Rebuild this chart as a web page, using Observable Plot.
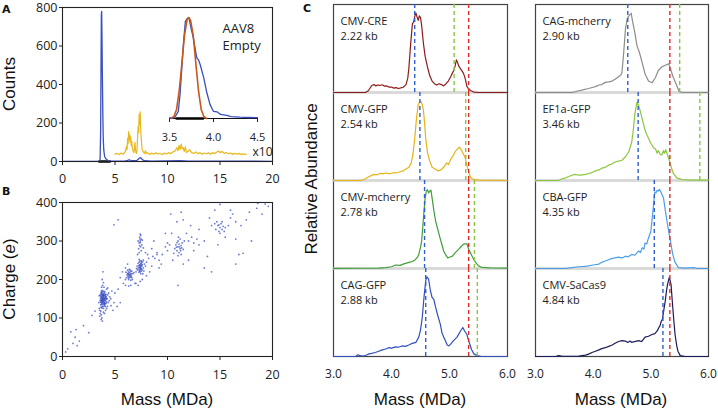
<!DOCTYPE html>
<html><head><meta charset="utf-8">
<script src="https://cdn.jsdelivr.net/npm/d3@7"></script>
<script src="https://cdn.jsdelivr.net/npm/@observablehq/plot@0.6"></script>
<style>
body{margin:0;background:#fff;}
#fig{position:relative;width:718px;height:411px;overflow:hidden;}
.pane{position:absolute;}
.lab{position:absolute;white-space:nowrap;line-height:1;color:#111;font-family:"Liberation Sans",Arial,sans-serif;}
</style></head><body><div id="fig"></div>
<script>
// ---------- Panel A data ----------
const spectrumMass   = [0,3.5,3.58,3.63,3.67,3.7,3.73,3.76,3.8,3.84,3.88,3.93,4.0,4.1,4.3,4.6,5.5,6.0,6.2,6.35,6.5,6.8,7.1,7.3,7.45,7.6,7.8,8.5,11.2,12,20];
const spectrumCounts = [1,1,10,150,500,760,780,650,430,250,120,60,30,15,6,3,2,3,6,9,5,4,6,16,20,10,4,2,4,2,1];
const x10Mass   = [5.0,5.2,5.4,5.6,5.8,5.9,6.0,6.1,6.15,6.2,6.25,6.3,6.35,6.4,6.45,6.5,6.55,6.6,6.65,6.7,6.8,6.85,6.9,6.95,7.0,7.05,7.1,7.15,7.2,7.25,7.3,7.35,7.4,7.45,7.5,7.55,7.6,7.7,7.8,7.9,8.0,8.1,8.3,8.5,8.7,8.9,9.1,9.3,9.5,9.7,9.9,10.1,10.3,10.5,10.7,10.8,10.9,11.0,11.1,11.2,11.3,11.4,11.5,11.6,11.7,11.8,12.0,12.1,12.3,12.5,12.7,12.9,13.1,13.3,13.5,13.7,13.9,14.1,14.3,14.5,14.7,14.9,15.0,15.2,15.4,15.6,15.8,16.0,16.2,16.4,16.6,16.8,17.0,17.2,17.5];
const x10Counts = [38,42,36,44,38,46,55,80,62,120,92,155,112,140,100,128,82,104,72,58,46,72,100,62,46,42,60,130,180,150,245,190,258,165,120,80,60,50,42,56,40,46,37,44,38,46,39,42,36,44,39,46,41,49,54,62,72,56,84,62,90,66,72,52,76,46,56,62,46,42,50,40,46,38,44,40,45,38,46,41,49,54,46,52,42,47,40,44,37,42,38,42,37,40,37];
const insetMass = [3.5,3.56,3.6,3.62,3.64,3.66,3.68,3.7,3.72,3.746,3.77,3.81,3.83,3.85,3.89,3.92,3.96,4.0,4.04,4.08,4.15,4.2,4.3,4.4,4.5];
const insetSignal = [0.005,0.01,0.07,0.24,0.5,0.76,0.96,0.99,1.0,0.89,0.8,0.6,0.58,0.53,0.4,0.27,0.14,0.07,0.066,0.04,0.03,0.018,0.013,0.01,0.008];
const fitMass = [3.52,3.55,3.58,3.61,3.64,3.67,3.70,3.72,3.74,3.77,3.80,3.83,3.86,3.89,3.92];
const fitSignal = [0,0.02,0.09,0.27,0.54,0.82,0.98,1.0,0.97,0.82,0.54,0.27,0.09,0.02,0];
const xTicksAB = [0,5,10,15,20];
const yTicksA = [0,200,400,600,800];
const yTicksB = [0,100,200,300,400];
const insetTicks = [3.5,4.0,4.5];

// ---------- Panel B data (Mass MDa, Charge e) ----------
const cluster37 = [[3.62,150],[3.65,142],[3.68,158],[3.7,135],[3.72,165],[3.75,148],[3.78,155],[3.8,140],[3.82,162],[3.85,150],[3.88,145],[3.9,158],[3.92,138],[3.95,152],[3.98,165],[4.0,148],[4.02,140],[4.05,155],[4.08,160],[4.1,145],[4.12,152],[4.15,138],[3.66,128],[3.7,170],[3.74,126],[3.78,172],[3.84,130],[3.86,168],[3.9,125],[3.94,170],[3.98,132],[4.04,168],[4.08,130],[4.14,162],[4.18,150],[4.2,142],[3.6,160],[3.58,145],[3.64,135],[3.76,138],[3.8,160],[3.83,147],[3.87,156],[3.91,143],[3.96,147],[4.01,159],[4.06,146],[3.73,153],[3.77,144],[3.93,161],[3.99,141],[4.03,151],[3.69,147],[3.71,141],[3.81,151],[3.89,151],[4.11,157],[3.63,155],[3.75,162],[3.85,136],[3.97,137],[4.07,137],[4.16,155],[3.67,165],[3.79,130],[3.74,145],[3.86,142],[3.95,158],[3.82,155],[3.7,152],[3.88,162],[4.0,135],[3.76,168],[3.92,150],[3.8,146],[3.68,140],[4.1,150],[3.84,158],
  [3.55,120],[3.6,112],[3.7,108],[3.75,100],[3.8,92],[3.65,118],[3.9,115],[3.72,180],[3.82,185],[3.9,192],[3.78,200],[3.95,180],[4.25,150],[4.3,160],[4.35,140],[4.4,165],[4.5,155],[4.28,130],[4.45,145],[3.45,140],[3.5,158],[3.5,125],[4.6,150],[4.7,170],[4.2,175],[4.3,178],[3.85,220],[3.55,105],[4.1,120],[4.0,112],[3.68,96],[4.2,125],[4.62,132],[4.8,120],[5.2,130],[4.9,140],[5.0,165],[5.5,140],[5.3,175]];
const diagonalLow = [[0.3,12],[0.5,20],[0.8,64],[1.0,34],[1.2,50],[1.3,70],[1.4,28],[1.6,40],[2.0,80],[2.8,107],[3.1,118],[2.5,62]];
const cluster64 = [[6.1,205],[6.2,215],[6.25,208],[6.3,220],[6.35,212],[6.4,205],[6.4,218],[6.45,225],[6.5,210],[6.55,215],[6.6,205],[6.6,222],[6.3,200],[6.2,224],[6.5,198],[6.45,214],[6.35,226],[6.25,216],[6.55,208],[6.15,212],[6.7,215],[6.65,200],[6.0,200],[6.4,211],[6.3,213],[6.5,221],[6.42,207],[6.28,204],[6.8,218],[6.05,219],
  [5.8,190],[6.0,185],[6.5,185],[6.3,183],[6.9,190],[5.5,205],[5.7,220],[6.2,240],[6.0,230],[5.3,355],[4.9,342]];
const cluster74 = [[7.2,230],[7.3,225],[7.35,238],[7.4,230],[7.45,242],[7.5,228],[7.55,235],[7.6,225],[7.3,245],[7.4,220],[7.5,248],[7.25,236],[7.35,222],[7.45,232],[7.55,244],[7.6,238],[7.7,230],[7.15,225],[7.2,242],[7.4,238],[7.42,226],[7.48,236],[7.33,231],[7.52,222],[7.38,248],[7.28,219],[7.62,246],[7.1,235],[7.8,240],[7.75,222],[7.05,228],[7.45,215],[7.36,234],[7.44,227],[7.5,240],[7.9,235],[7.0,220],[7.65,215],[7.3,252],[7.7,250],
  [7.0,190],[7.4,195],[7.6,200],[8.0,245],[8.2,255],[8.5,235],[8.1,265],[7.9,270],[8.6,260],[8.8,255],[9.0,265],[9.2,250],[8.3,220],[8.0,210],[7.2,185]];
const cluster74high = [[7.25,280],[7.3,295],[7.35,310],[7.4,300],[7.45,285],[7.5,305],[7.4,318],[7.3,270],[7.55,290],[7.45,315],[7.35,288],[7.42,296],[7.6,302],[7.2,300],[7.5,275],[7.38,305],[7.7,282],[7.15,265]];
const cluster111 = [[10.7,280],[10.8,290],[10.9,275],[11.0,285],[11.0,300],[11.1,270],[11.1,292],[11.2,280],[11.2,305],[11.3,288],[11.3,265],[11.4,295],[11.5,278],[11.0,262],[10.9,296],[11.15,285],[11.25,275],[11.6,300],[10.6,268],[11.05,310],[11.35,282],[10.85,284],
  [8.5,280],[9.0,270],[9.5,265],[9.8,285],[10.0,275],[10.2,290],[9.4,240],[8.7,300],[9.2,230],[10.5,250],[10.0,295],[12.0,300],[12.3,310],[12.5,295],[11.8,320],[12.8,305],[11.0,185],[11.5,240],[12.0,250],[12.5,275],[13.0,290],[13.5,300],[10.4,320],[9.8,320],[10.9,350],[11.3,375],[10.3,370],[11.5,355]];
const cluster150 = [[14.6,330],[14.8,340],[14.9,325],[15.0,335],[15.1,345],[15.2,330],[15.3,338],[14.7,350],[15.4,325],[15.0,320],[15.2,350],[14.9,342],[15.5,335],[14.5,345],
  [14.0,360],[14.5,380],[16.0,360],[16.5,350],[17.0,340],[17.5,355],[16.2,370],[15.8,340],[14.8,290],[13.5,230],[14.2,220],[15.0,395],[16.5,240],[17.2,268],[16.8,265],[18.0,300],[18.6,398],[19.3,396],[19.6,390],[18.5,385],[17.8,375],[19.0,370],[16.0,380],[13.8,260],[15.5,310],[14.2,340],[13.0,330],[12.2,340],[16.5,305]];

// ---------- Panel C data ----------
const leftSamples  = ["CMV-CRE","CMV-GFP","CMV-mcherry","CAG-GFP"];
const leftSizes    = ["2.22 kb","2.54 kb","2.78 kb","2.88 kb"];
const leftColors   = ["#8e1b1b","#e8b318","#3f9f3a","#2f4fbd"];
const leftEmpty    = [4.40,4.49,4.57,4.59];
const leftGreen    = [5.08,5.28,5.43,5.48];
const rightSamples = ["CAG-mcherry","EF1a-GFP","CBA-GFP","CMV-SaCas9"];
const rightSizes   = ["2.90 kb","3.46 kb","4.35 kb","4.84 kb"];
const rightColors  = ["#8c8c8c","#8cc63e","#4b9ee6","#1a1c5a"];
const rightEmpty   = [4.60,4.78,5.06,5.21];
const rightGreen   = [5.50,5.85,null,null];
const fullMarker   = 5.33;
const cTicks = [3,4,5,6];

const creTrace = [[3.0,0],[3.55,0],[3.6,0.02],[3.66,0.08],[3.7,0.09],[3.73,0.075],[3.76,0.085],[3.8,0.08],[3.84,0.088],[3.88,0.072],[3.92,0.075],[3.96,0.06],[4.0,0.062],[4.04,0.05],[4.08,0.055],[4.12,0.045],[4.16,0.052],[4.2,0.06],[4.25,0.09],[4.28,0.16],[4.3,0.28],[4.33,0.55],[4.36,0.78],[4.38,0.8],[4.4,0.86],[4.42,0.905],[4.44,0.86],[4.46,0.82],[4.48,0.87],[4.5,0.85],[4.52,0.76],[4.55,0.56],[4.58,0.41],[4.62,0.29],[4.66,0.19],[4.7,0.13],[4.74,0.1],[4.78,0.085],[4.82,0.1],[4.86,0.09],[4.9,0.075],[4.94,0.1],[4.98,0.13],[5.02,0.18],[5.05,0.22],[5.08,0.26],[5.1,0.31],[5.12,0.37],[5.14,0.34],[5.16,0.3],[5.2,0.26],[5.24,0.22],[5.27,0.16],[5.3,0.07],[5.33,0.04],[5.37,0.02],[5.42,0.005],[5.5,0],[6.0,0]];
const cmvGfpTrace = [[3.0,0],[3.48,0],[3.55,0.02],[3.6,0.04],[3.65,0.055],[3.7,0.07],[3.75,0.065],[3.8,0.08],[3.85,0.075],[3.9,0.085],[3.95,0.078],[4.0,0.082],[4.05,0.09],[4.1,0.088],[4.15,0.1],[4.2,0.11],[4.25,0.13],[4.3,0.15],[4.34,0.2],[4.37,0.3],[4.4,0.47],[4.43,0.7],[4.46,0.86],[4.49,0.9],[4.51,0.895],[4.53,0.86],[4.55,0.8],[4.57,0.66],[4.59,0.48],[4.62,0.32],[4.66,0.22],[4.7,0.15],[4.75,0.13],[4.8,0.11],[4.85,0.12],[4.9,0.15],[4.95,0.2],[4.98,0.18],[5.02,0.24],[5.06,0.28],[5.1,0.33],[5.14,0.36],[5.17,0.38],[5.2,0.35],[5.24,0.3],[5.27,0.26],[5.3,0.17],[5.33,0.1],[5.36,0.04],[5.4,0.015],[5.5,0.005],[6.0,0]];
const cmvMcherryTrace = [[3.0,0.002],[3.5,0.003],[3.78,0.005],[3.9,0.01],[4.0,0.02],[4.07,0.04],[4.15,0.035],[4.2,0.05],[4.3,0.07],[4.36,0.08],[4.41,0.1],[4.45,0.13],[4.47,0.16],[4.5,0.24],[4.52,0.31],[4.54,0.48],[4.56,0.65],[4.58,0.8],[4.6,0.88],[4.62,0.895],[4.64,0.86],[4.66,0.88],[4.68,0.89],[4.7,0.8],[4.73,0.66],[4.76,0.54],[4.8,0.44],[4.84,0.34],[4.87,0.27],[4.9,0.2],[4.93,0.16],[4.97,0.12],[5.01,0.13],[5.05,0.14],[5.1,0.18],[5.16,0.22],[5.2,0.25],[5.25,0.28],[5.3,0.28],[5.33,0.22],[5.36,0.18],[5.39,0.14],[5.42,0.1],[5.45,0.07],[5.5,0.03],[5.56,0.012],[5.7,0.008],[6.0,0.005]];
const cagGfpTrace = [[3.0,0],[3.38,0],[3.42,0.02],[3.46,0.01],[3.52,0.005],[3.58,0.02],[3.61,0.03],[3.66,0.035],[3.72,0.045],[3.78,0.06],[3.84,0.075],[3.9,0.085],[3.95,0.1],[4.0,0.095],[4.07,0.11],[4.12,0.105],[4.18,0.12],[4.24,0.115],[4.3,0.13],[4.36,0.15],[4.42,0.16],[4.47,0.22],[4.5,0.3],[4.53,0.44],[4.56,0.67],[4.59,0.86],[4.61,0.905],[4.64,0.88],[4.67,0.75],[4.7,0.67],[4.73,0.65],[4.76,0.56],[4.8,0.46],[4.84,0.37],[4.87,0.27],[4.9,0.22],[4.93,0.18],[4.96,0.13],[4.99,0.12],[5.02,0.14],[5.07,0.18],[5.13,0.22],[5.19,0.29],[5.23,0.33],[5.26,0.29],[5.28,0.27],[5.3,0.25],[5.33,0.18],[5.38,0.08],[5.42,0.03],[5.48,0.01],[5.55,0],[6.0,0]];
const cagMcherryTrace = [[3.0,0],[3.63,0],[3.7,0.01],[3.75,0.02],[3.82,0.03],[3.92,0.045],[4.0,0.06],[4.05,0.07],[4.1,0.085],[4.15,0.09],[4.21,0.115],[4.27,0.12],[4.33,0.13],[4.38,0.15],[4.44,0.18],[4.48,0.2],[4.5,0.23],[4.53,0.46],[4.56,0.72],[4.59,0.84],[4.63,0.88],[4.66,0.9],[4.68,0.82],[4.72,0.69],[4.76,0.53],[4.8,0.46],[4.85,0.34],[4.9,0.21],[4.96,0.13],[5.02,0.11],[5.08,0.17],[5.13,0.25],[5.19,0.29],[5.25,0.31],[5.31,0.325],[5.34,0.27],[5.39,0.17],[5.45,0.08],[5.49,0.01],[5.55,0],[6.0,0]];
const ef1aGfpTrace = [[3.0,0],[3.4,0],[3.46,0.02],[3.52,0.03],[3.58,0.045],[3.63,0.06],[3.69,0.07],[3.75,0.06],[3.81,0.065],[3.87,0.07],[3.92,0.08],[3.98,0.09],[4.04,0.11],[4.1,0.12],[4.15,0.14],[4.21,0.15],[4.27,0.175],[4.33,0.19],[4.38,0.21],[4.44,0.22],[4.5,0.23],[4.56,0.27],[4.62,0.33],[4.67,0.44],[4.7,0.6],[4.72,0.74],[4.74,0.82],[4.76,0.89],[4.79,0.85],[4.82,0.78],[4.85,0.7],[4.88,0.62],[4.9,0.57],[4.93,0.52],[4.96,0.48],[5.0,0.42],[5.02,0.4],[5.05,0.37],[5.08,0.36],[5.11,0.31],[5.13,0.34],[5.16,0.3],[5.19,0.29],[5.22,0.34],[5.24,0.31],[5.26,0.35],[5.28,0.31],[5.31,0.25],[5.34,0.18],[5.39,0.08],[5.45,0.03],[5.54,0.01],[5.7,0.005],[6.0,0.004]];
const cbaGfpTrace = [[3.0,0],[3.52,0],[3.63,0.01],[3.75,0.02],[3.85,0.025],[3.92,0.03],[4.0,0.04],[4.1,0.05],[4.15,0.07],[4.21,0.085],[4.27,0.1],[4.33,0.115],[4.38,0.12],[4.44,0.13],[4.5,0.12],[4.56,0.14],[4.6,0.13],[4.67,0.16],[4.72,0.15],[4.79,0.2],[4.82,0.18],[4.85,0.235],[4.88,0.22],[4.9,0.29],[4.93,0.28],[4.96,0.35],[5.0,0.42],[5.03,0.61],[5.05,0.75],[5.07,0.87],[5.09,0.86],[5.11,0.89],[5.13,0.88],[5.15,0.9],[5.18,0.86],[5.22,0.8],[5.26,0.62],[5.29,0.5],[5.31,0.42],[5.34,0.31],[5.38,0.16],[5.42,0.07],[5.48,0.01],[5.6,0.005],[5.75,0.01],[5.8,0],[6.0,0]];
const saCas9Trace = [[3.0,0],[3.35,0],[3.4,0.01],[3.45,0.005],[3.6,0.003],[3.75,0.005],[3.87,0.015],[3.93,0.03],[3.98,0.045],[4.04,0.06],[4.1,0.075],[4.15,0.09],[4.21,0.1],[4.27,0.115],[4.33,0.13],[4.38,0.15],[4.44,0.17],[4.5,0.18],[4.56,0.175],[4.6,0.16],[4.64,0.175],[4.67,0.16],[4.72,0.17],[4.79,0.18],[4.84,0.17],[4.9,0.22],[4.96,0.23],[5.02,0.25],[5.07,0.26],[5.11,0.29],[5.14,0.33],[5.16,0.35],[5.18,0.4],[5.2,0.42],[5.23,0.55],[5.25,0.63],[5.27,0.74],[5.29,0.82],[5.32,0.9],[5.35,0.82],[5.38,0.56],[5.4,0.4],[5.42,0.25],[5.45,0.12],[5.47,0.06],[5.51,0.01],[5.6,0],[6.0,0]];
const leftTraces  = [creTrace, cmvGfpTrace, cmvMcherryTrace, cagGfpTrace];
const rightTraces = [cagMcherryTrace, ef1aGfpTrace, cbaGfpTrace, saCas9Trace];

// ---------- drawing ----------
const fig = document.getElementById("fig");
const tickFont = {fontFamily: "'Open Sans', sans-serif", fontSize: "12.5px", color: "#222", background: "transparent", overflow: "visible"};
const blue = "#3a4fc1", yellow = "#e8b81c", orange = "#c8581a";
function place(svg, left, top) { const d = document.createElement("div"); d.className = "pane"; d.style.left = left + "px"; d.style.top = top + "px"; d.appendChild(svg); fig.appendChild(d); }
function label(html, cx, cy, opts = {}) {
  const d = document.createElement("div"); d.className = "lab"; d.innerHTML = html;
  d.style.left = cx + "px"; d.style.top = cy + "px";
  d.style.fontSize = (opts.size || 17) + "px";
  if (opts.bold) { d.style.fontWeight = "bold"; d.style.fontFamily = "'DejaVu Sans',sans-serif"; }
  d.style.transform = opts.anchor === "tl" ? "none" : `translate(-50%,-50%)${opts.rot ? " rotate(-90deg)" : ""}`;
  fig.appendChild(d);
}
const pairs = (xs, ys) => xs.map((x, i) => ({x, y: ys[i]}));

// Panel A
place(Plot.plot({
  width: 280, height: 191, marginLeft: 62, marginRight: 8, marginTop: 7, marginBottom: 30,
  style: tickFont,
  x: {domain: [0, 20], ticks: xTicksAB, tickSize: 4, tickPadding: 9, label: null},
  y: {domain: [0, 800], ticks: yTicksA, tickSize: 3, tickPadding: 2, label: null},
  marks: [
    Plot.line(pairs(x10Mass, x10Counts), {x: "x", y: "y", stroke: yellow, strokeWidth: 1.2}),
    Plot.line(pairs([3.5, 4.5], [0, 0]), {x: "x", y: "y", stroke: "#000", strokeWidth: 2.5}),
    Plot.line(pairs(spectrumMass, spectrumCounts), {x: "x", y: "y", stroke: blue, strokeWidth: 1.3}),
    Plot.frame({stroke: "#222", strokeWidth: 1.1}),
    Plot.text(["x10"], {frameAnchor: "bottom-right", dx: -20, dy: -6, textAnchor: "start", fontSize: 12, fill: "#222"}),
    Plot.text(["AAV8"], {frameAnchor: "top-right", dx: -50, dy: 16, textAnchor: "start", fontSize: 13, fill: "#222"}),
    Plot.text(["Empty"], {frameAnchor: "top-right", dx: -50, dy: 33, textAnchor: "start", fontSize: 13, fill: "#222"})
  ]
}), 0, 0);

// Inset
place(Plot.plot({
  width: 110, height: 135, marginLeft: 9, marginRight: 13, marginTop: 6, marginBottom: 28,
  style: {...tickFont, fontSize: "11px"},
  x: {domain: [3.5, 4.5], ticks: insetTicks, tickFormat: d => d.toFixed(1), tickSize: 4, tickPadding: 11, label: null},
  y: {domain: [0, 1], axis: null},
  marks: [
    Plot.ruleY([0], {stroke: "#111", strokeWidth: 1.2}),
    Plot.line(pairs(insetMass, insetSignal), {x: "x", y: "y", stroke: blue, strokeWidth: 1.3}),
    Plot.line(pairs(fitMass, fitSignal), {x: "x", y: "y", stroke: orange, strokeWidth: 1.6}),
    Plot.line(pairs([3.58, 3.88], [0, 0]), {x: "x", y: "y", stroke: "#000", strokeWidth: 2.5})
  ]
}), 160, 11);

// Panel B
const scatter = [...diagonalLow, ...cluster37, ...cluster64, ...cluster74, ...cluster74high, ...cluster111, ...cluster150];
place(Plot.plot({
  width: 280, height: 200, marginLeft: 62, marginRight: 8, marginTop: 12, marginBottom: 34,
  style: tickFont,
  x: {domain: [0, 20], ticks: xTicksAB, tickSize: 4, tickPadding: 10, label: null},
  y: {domain: [0, 400], ticks: yTicksB, tickSize: 3, tickPadding: 2, label: null},
  marks: [
    Plot.dot(scatter, {x: d => d[0], y: d => d[1], r: 0.9, fill: "#3a4fc4", fillOpacity: 0.75, stroke: "none"}),
    Plot.frame({stroke: "#222", strokeWidth: 1.1})
  ]
}), 0, 190);

// Panel C columns
function column(names, sizes, colors, traces, empties, greens, width, mLeft, mRight) {
  const sepRows = names.slice(0, names.length - 1).map(n => ({sample: n}));
  const nameRows = names.map(n => ({sample: n, text: n}));
  const sizeRows = names.map((n, i) => ({sample: n, text: sizes[i]}));
  const marks = [
    Plot.frame({stroke: "#444", strokeWidth: 1.2}),
    Plot.ruleY(sepRows, {fy: "sample", y: () => 0, stroke: "#d9d9d9", strokeWidth: 2})
  ];
  names.forEach((n, i) => {
    marks.push(Plot.line(traces[i].map(([m, a]) => ({sample: n, mass: m, abundance: a})),
      {fy: "sample", x: "mass", y: "abundance", stroke: colors[i], strokeWidth: 1.2}));
  });
  marks.push(Plot.ruleX(names.map((n, i) => ({sample: n, mass: empties[i]})), {fy: "sample", x: "mass", stroke: "#2f5fd0", strokeWidth: 1.4, strokeDasharray: "4,3"}));
  marks.push(Plot.ruleX(names.map(n => ({sample: n, mass: fullMarker})), {fy: "sample", x: "mass", stroke: "#e02b2b", strokeWidth: 1.4, strokeDasharray: "4,3"}));
  marks.push(Plot.ruleX(names.map((n, i) => ({sample: n, mass: greens[i]})).filter(d => d.mass != null), {fy: "sample", x: "mass", stroke: "#8cc63e", strokeWidth: 1.4, strokeDasharray: "4,3"}));
  marks.push(Plot.text(nameRows, {fy: "sample", text: "text", frameAnchor: "top-left", dx: 7, dy: 13, textAnchor: "start", fontSize: 11, fill: "#222"}));
  marks.push(Plot.text(sizeRows, {fy: "sample", text: "text", frameAnchor: "top-left", dx: 7, dy: 28, textAnchor: "start", fontSize: 11, fill: "#222"}));
  return Plot.plot({
    width, height: 411, marginLeft: mLeft, marginRight: mRight, marginTop: 3, marginBottom: 55,
    style: {...tickFont, fontSize: "12px"},
    x: {domain: [3, 6], ticks: cTicks, tickFormat: d => d.toFixed(1), tickSize: 0, tickPadding: 13, label: null},
    y: {domain: [0, 1], axis: null},
    fy: {domain: names, axis: null, padding: 0, label: null},
    marks
  });
}
place(column(leftSamples, leftSizes, leftColors, leftTraces, leftEmpty, leftGreen, 212, 33, 5), 300, 0);
place(column(rightSamples, rightSizes, rightColors, rightTraces, rightEmpty, rightGreen, 206, 23, 10), 512, 0);

// Titles and panel letters
label("Counts", 9, 84, {rot: true});
label("Charge (<i>e</i>)", 9, 279, {rot: true});
label("Mass (MDa)", 167, 399);
label("Relative Abundance", 311, 179, {rot: true});
label("Mass (MDa)", 420, 399);
label("Mass (MDa)", 621, 399);
label("A", 2, 4, {bold: true, size: 11, anchor: "tl"});
label("B", 2, 186, {bold: true, size: 11, anchor: "tl"});
label("C", 303, 3, {bold: true, size: 11, anchor: "tl"});
</script></body></html>
